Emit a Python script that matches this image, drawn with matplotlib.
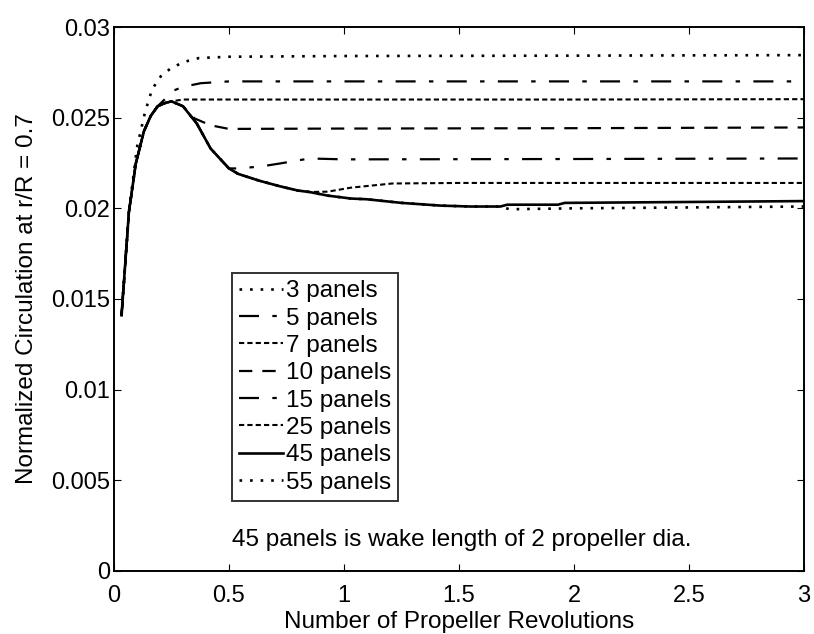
import numpy as np
from matplotlib import pyplot as plt

plt.rcParams['font.family'] = ['Liberation Sans', 'DejaVu Sans']

# shared start of every run
base_x = [0.033, 0.065, 0.095, 0.13, 0.16, 0.19, 0.22, 0.25, 0.30, 0.36, 0.42, 0.50,
          0.54, 0.63, 0.72, 0.80, 0.85, 0.93, 1.03, 1.10, 1.25, 1.42, 1.55, 1.68]
base_y = [0.0141, 0.0198, 0.02247, 0.02424, 0.0251, 0.02563, 0.0258, 0.0259, 0.02563,
          0.02468, 0.0233, 0.0222, 0.0219, 0.02153, 0.02122, 0.02098, 0.0209, 0.0207,
          0.02054, 0.0205, 0.0203, 0.02015, 0.0201, 0.0201]

# 3 panels
p3_x = [0.033, 0.066, 0.10, 0.135, 0.166, 0.204, 0.243, 0.30, 0.37, 0.50, 1.0, 2.0, 3.0]
p3_y = [0.0141, 0.0199, 0.02336, 0.0253, 0.02657, 0.02729, 0.02768, 0.02806, 0.02829,
        0.02836, 0.0284, 0.02842, 0.02845]
# 5 panels
p5_x = base_x[:6] + [0.26, 0.30, 0.377, 0.50, 1.0, 2.0, 3.0]
p5_y = base_y[:6] + [0.0265, 0.0267, 0.0269, 0.0270, 0.0270, 0.0270, 0.0270]
# 7 panels
p7_x = base_x[:8] + [0.30, 1.0, 2.0, 3.0]
p7_y = base_y[:8] + [0.0260, 0.0260, 0.0260, 0.02602]
# 10 panels
p10_x = base_x[:9] + [0.35, 0.42, 0.50, 1.0, 2.0, 3.0]
p10_y = base_y[:9] + [0.02496, 0.02458, 0.02438, 0.0244, 0.02442, 0.02446]
# 15 panels
p15_x = base_x[:12] + [0.54, 0.64, 0.72, 0.85, 1.0, 2.0, 3.0]
p15_y = base_y[:12] + [0.0222, 0.02231, 0.02247, 0.02275, 0.0227, 0.02272, 0.02275]
# 25 panels
p25_x = base_x[:17] + [0.93, 1.03, 1.21, 1.5, 2.0, 3.0]
p25_y = base_y[:17] + [0.02092, 0.02114, 0.02137, 0.0214, 0.0214, 0.0214]
# 45 panels
p45_x = base_x + [1.71, 1.93, 1.96, 2.5, 3.0]
p45_y = base_y + [0.0202, 0.0202, 0.0203, 0.02035, 0.0204]
# 55 panels
p55_x = base_x + [1.72, 2.0, 2.5, 3.0]
p55_y = base_y + [0.01995, 0.0200, 0.02005, 0.0201]

labels = ['3 panels', '5 panels', '7 panels', '10 panels', '15 panels',
          '25 panels', '45 panels', '55 panels']

dot = (0, (1, 3))
dashdot = (0, (9, 6, 2, 6))
fine = (0, (2.5, 1.5))
medium = (0, (6, 4.5))

fig = plt.figure(figsize=(8.14, 6.34), dpi=100)
ax = fig.add_axes([0.140, 0.0994, 0.8477, 0.858])

series = [(p3_x, p3_y, dot, 1.9), (p5_x, p5_y, dashdot, 1.6), (p7_x, p7_y, fine, 1.5),
          (p10_x, p10_y, medium, 1.6), (p15_x, p15_y, dashdot, 1.6),
          (p25_x, p25_y, fine, 1.5), (p45_x, p45_y, '-', 1.9), (p55_x, p55_y, dot, 1.9)]
for (x, y, ls, lw), lab in zip(series, labels):
    ax.plot(x, y, color='black', linestyle=ls, linewidth=lw, label=lab)

ax.set_xlim(0, 3)
ax.set_ylim(0, 0.03)
ax.set_xticks([0, 0.5, 1, 1.5, 2, 2.5, 3])
ax.set_xticklabels(['0', '0.5', '1', '1.5', '2', '2.5', '3'])
ax.set_yticks([0, 0.005, 0.01, 0.015, 0.02, 0.025, 0.03])
ax.set_yticklabels(['0', '0.005', '0.01', '0.015', '0.02', '0.025', '0.03'])
ax.tick_params(direction='in', top=True, right=True, length=5, labelsize=17)
ax.tick_params(axis='x', pad=10)
ax.tick_params(axis='y', pad=3)
for s in ax.spines.values():
    s.set_linewidth(1.4)

ax.set_xlabel('Number of Propeller Revolutions', fontsize=17.5, labelpad=3)
ax.set_ylabel('Normalized Circulation at r/R = 0.7', fontsize=17.5, labelpad=9)

leg = ax.legend(loc='upper left', bbox_to_anchor=(0.171, 0.548), borderaxespad=0,
                fontsize=17.5, frameon=True, fancybox=False, handlelength=1.8,
                handletextpad=0.12, labelspacing=0.22, borderpad=0.3)
leg.get_frame().set_edgecolor('black')
leg.get_frame().set_linewidth(1.4)

ax.text(0.513, 0.0017, '45 panels is wake length of 2 propeller dia.', fontsize=17.5,
        ha='left', va='center')

plt.savefig('out.png', dpi=100)
